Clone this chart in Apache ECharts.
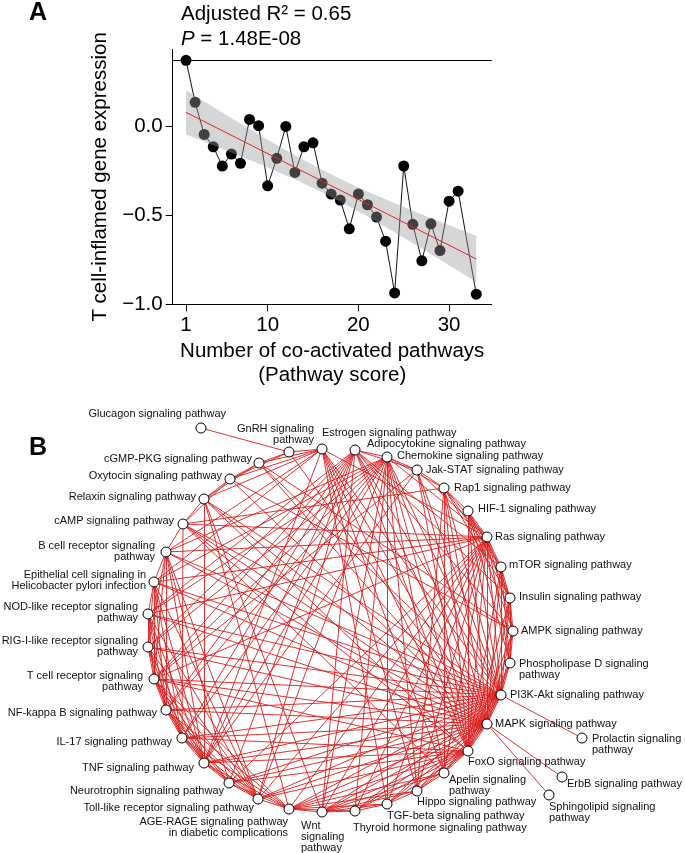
<!DOCTYPE html>
<html><head><meta charset="utf-8">
<script src="https://cdn.jsdelivr.net/npm/echarts@6/dist/echarts.min.js"></script>
<style>html,body{margin:0;padding:0;background:#fff}#c{width:685px;height:853px}</style>
</head><body><div id="c"></div>
<script>
// ---------- Panel A data ----------
const scoreX = [1,2,3,4,5,6,7,8,9,10,11,12,13,14,15,16,17,18,19,20,21,22,23,24,25,26,27,28,29,30,31,33];
const tcellY = [0.368,0.133,-0.047,-0.116,-0.224,-0.157,-0.209,0.037,0.002,-0.335,-0.181,-0.002,-0.260,-0.116,-0.094,-0.320,
                -0.381,-0.415,-0.576,-0.381,-0.441,-0.510,-0.645,-0.935,-0.224,-0.551,-0.755,-0.548,-0.698,-0.421,-0.365,-0.942];
const xTickValues = [1,10,20,30];
const yTickValues = [-1,-0.5,0];
const statR2 = 'Adjusted R² = 0.65';
const statP = '1.48E-08';
const xAxisTitle = 'Number of co-activated pathways\n(Pathway score)';
const yAxisTitle = 'T cell-inflamed gene expression';

// ---------- Panel B data ----------
const nodeIds = ['gluc','gnrh','estr','adipo','chemo','jak','rap1','hif','ras','mtor','ins','ampk','pld','pi3k','mapk','prl','foxo','erbb','sphingo',
  'apelin','hippo','tgf','thyroid','wnt','age','toll','neuro','tnf','il17','nfkb','tcr','rig','nod','epi','bcr','camp','relaxin','oxy','cgmp'];
const nodeLabels = ['Glucagon signaling pathway','GnRH signaling\npathway','Estrogen signaling pathway','Adipocytokine signaling pathway',
  'Chemokine signaling pathway','Jak-STAT signaling pathway','Rap1 signaling pathway','HIF-1 signaling pathway','Ras signaling pathway',
  'mTOR signaling pathway','Insulin signaling pathway','AMPK signaling pathway','Phospholipase D signaling\npathway','PI3K-Akt signaling pathway',
  'MAPK signaling pathway','Prolactin signaling\npathway','FoxO signaling pathway','ErbB signaling pathway','Sphingolipid signaling\npathway',
  'Apelin signaling\npathway','Hippo signaling pathway','TGF-beta signaling pathway','Thyroid hormone signaling pathway','Wnt\nsignaling\npathway',
  'AGE-RAGE signaling pathway\nin diabetic complications','Toll-like receptor signaling pathway','Neurotrophin signaling pathway',
  'TNF signaling pathway','IL-17 signaling pathway','NF-kappa B signaling pathway','T cell receptor signaling\npathway',
  'RIG-I-like receptor signaling\npathway','NOD-like receptor signaling\npathway','Epithelial cell signaling in\nHelicobacter pylori infection',
  'B cell receptor signaling\npathway','cAMP signaling pathway','Relaxin signaling pathway','Oxytocin signaling pathway','cGMP-PKG signaling pathway'];
// network layout coordinates (layout units, circle centred on 0,0)
const nodeLayoutX = [-129,-41,-8,25,57,87,114,138,157,171,180,183,180,171,157,252,138,232,219,114,87,57,25,-8,-41,-72,-101,-126,-148,-164,-176,-182,-182,-176,-164,-147,-126,-100,-71];
const nodeLayoutY = [203,179,182,181,174,161,143,120,94,64,33,0,-32,-64,-93,-107,-120,-146,-164,-142,-160,-173,-180,-181,-178,-168,-152,-132,-107,-79,-48,-16,17,49,79,107,132,152,168];
const edgeList = [
 ['gluc','gnrh'],['gnrh','estr'],['gnrh','cgmp'],['gnrh','oxy'],['gnrh','mapk'],
 ['cgmp','estr'],['cgmp','oxy'],['cgmp','pi3k'],['cgmp','mapk'],['cgmp','relaxin'],['cgmp','ampk'],
 ['oxy','estr'],['oxy','mapk'],['oxy','camp'],['oxy','relaxin'],['oxy','ampk'],
 ['relaxin','estr'],['relaxin','camp'],['relaxin','tnf'],['relaxin','pi3k'],['relaxin','mapk'],['relaxin','foxo'],['relaxin','wnt'],['relaxin','age'],
 ['camp','bcr'],['camp','ras'],['camp','pi3k'],['camp','mapk'],['camp','rap1'],['camp','il17'],['camp','foxo'],['camp','apelin'],
 ['estr','pi3k'],['estr','mapk'],['estr','ras'],['estr','foxo'],['estr','hippo'],['estr','tgf'],['estr','apelin'],['estr','bcr'],['estr','epi'],['estr','tnf'],
 ['adipo','tnf'],['adipo','nfkb'],['adipo','toll'],['adipo','il17'],['adipo','pi3k'],['adipo','mapk'],['adipo','ampk'],['adipo','ins'],['adipo','mtor'],
 ['adipo','jak'],['adipo','chemo'],['adipo','rig'],['adipo','nod'],['adipo','tcr'],['adipo','neuro'],['adipo','foxo'],['adipo','wnt'],
 ['chemo','bcr'],['chemo','tcr'],['chemo','nfkb'],['chemo','tnf'],['chemo','toll'],['chemo','il17'],['chemo','rig'],['chemo','nod'],['chemo','epi'],
 ['chemo','pi3k'],['chemo','mapk'],['chemo','foxo'],['chemo','ras'],['chemo','jak'],['chemo','rap1'],['chemo','apelin'],['chemo','hippo'],['chemo','wnt'],['chemo','thyroid'],['chemo','tgf'],
 ['jak','rap1'],['jak','pi3k'],['jak','mapk'],['jak','foxo'],['jak','ras'],['jak','tcr'],['jak','tnf'],
 ['rap1','hif'],['rap1','ras'],['rap1','pi3k'],['rap1','mapk'],['rap1','foxo'],['rap1','apelin'],['rap1','hippo'],['rap1','mtor'],['rap1','ins'],
 ['hif','ras'],['hif','pi3k'],['hif','mapk'],['hif','foxo'],['hif','mtor'],['hif','ampk'],['hif','pld'],['hif','ins'],
 ['ras','mtor'],['ras','ins'],['ras','ampk'],['ras','pld'],['ras','pi3k'],['ras','mapk'],['ras','foxo'],['ras','bcr'],['ras','epi'],['ras','nod'],['ras','tcr'],
 ['ras','neuro'],['ras','wnt'],['ras','apelin'],['ras','hippo'],['ras','tgf'],['ras','age'],['ras','thyroid'],['ras','toll'],
 ['mtor','ins'],['mtor','ampk'],['mtor','pld'],['mtor','pi3k'],['mtor','mapk'],['mtor','foxo'],
 ['ins','ampk'],['ins','pld'],['ins','pi3k'],['ins','mapk'],['ins','foxo'],
 ['ampk','pld'],['ampk','pi3k'],['ampk','mapk'],['ampk','foxo'],
 ['pld','pi3k'],['pld','mapk'],['pld','foxo'],
 ['pi3k','mapk'],['pi3k','foxo'],['pi3k','prl'],['pi3k','bcr'],['pi3k','epi'],['pi3k','nod'],['pi3k','rig'],['pi3k','tcr'],['pi3k','nfkb'],['pi3k','il17'],
 ['pi3k','tnf'],['pi3k','neuro'],['pi3k','toll'],['pi3k','age'],['pi3k','wnt'],['pi3k','thyroid'],['pi3k','tgf'],['pi3k','hippo'],['pi3k','apelin'],
 ['mapk','foxo'],['mapk','erbb'],['mapk','sphingo'],['mapk','bcr'],['mapk','epi'],['mapk','nod'],['mapk','rig'],['mapk','tcr'],['mapk','nfkb'],['mapk','il17'],
 ['mapk','tnf'],['mapk','neuro'],['mapk','toll'],['mapk','age'],['mapk','wnt'],['mapk','thyroid'],['mapk','tgf'],['mapk','hippo'],['mapk','apelin'],
 ['foxo','apelin'],['foxo','hippo'],['foxo','tgf'],['foxo','thyroid'],['foxo','wnt'],['foxo','age'],['foxo','toll'],['foxo','neuro'],['foxo','tnf'],['foxo','il17'],['foxo','tcr'],
 ['apelin','hippo'],['apelin','age'],['apelin','wnt'],['hippo','tgf'],['hippo','wnt'],['hippo','age'],['tgf','wnt'],['tgf','age'],['tgf','thyroid'],
 ['thyroid','wnt'],['thyroid','age'],['wnt','age'],
 ['age','toll'],['age','tnf'],['age','nfkb'],['age','il17'],['age','neuro'],['age','tcr'],
 ['toll','neuro'],['toll','tnf'],['toll','il17'],['toll','nfkb'],['toll','tcr'],['toll','rig'],['toll','nod'],['toll','epi'],['toll','bcr'],
 ['neuro','tnf'],['neuro','il17'],['neuro','nfkb'],['neuro','tcr'],['neuro','bcr'],
 ['tnf','il17'],['tnf','nfkb'],['tnf','tcr'],['tnf','rig'],['tnf','nod'],['tnf','epi'],['tnf','bcr'],
 ['il17','nfkb'],['il17','tcr'],['il17','rig'],['il17','nod'],['il17','epi'],
 ['nfkb','tcr'],['nfkb','rig'],['nfkb','nod'],['nfkb','epi'],['nfkb','bcr'],
 ['tcr','rig'],['tcr','nod'],['tcr','epi'],['tcr','bcr'],['rig','nod'],['rig','epi'],['nod','epi'],['epi','bcr'],['bcr','rig']
];

// ---------- styles (label placement relative to node centre: dx, dyTop, align) ----------
const labelPlace = {
 gluc:[25,-19.8,'right'], gnrh:[25,-28.5,'right'], cgmp:[-7,-9.5,'right'], oxy:[-8,-8.8,'right'], relaxin:[-8,-7.8,'right'],
 camp:[-9,-8.8,'right'], bcr:[-11,-11.8,'right'], epi:[-8,-12.5,'right'], nod:[-10,-12.5,'right'], rig:[-10,-11.8,'right'],
 tcr:[-11,-8.5,'right'], nfkb:[-9,-2.5,'right'], il17:[-10,-1.5,'right'], tnf:[-10,-0.5,'right'], neuro:[-5,2.5,'right'],
 toll:[-4,3.5,'right'], age:[-1,7.5,'right'], wnt:[-21,8.5,'left'], thyroid:[-2,11.5,'left'], tgf:[0,6.5,'left'],
 hippo:[0,5.5,'left'], apelin:[5,1.5,'left'], foxo:[0,5.5,'left'], mapk:[8,-5.5,'left'], pi3k:[9,-5.5,'left'],
 pld:[9,-4.5,'left'], ampk:[8,-5.5,'left'], ins:[9,-6.5,'left'], mtor:[8,-7.5,'left'], ras:[8,-5.5,'left'],
 hif:[10,-7.5,'left'], rap1:[10,-5.5,'left'], jak:[9,-5.5,'left'], chemo:[10,-6.5,'left'], adipo:[12,-11.5,'left'],
 estr:[0,-21.5,'left'], prl:[10,-4.5,'left'], erbb:[5,1.5,'left'], sphingo:[0,6.5,'left']
};
const FONT = '"Liberation Sans", Arial, Helvetica, sans-serif';

// ---------- regression fit and 95% confidence band computed from the data ----------
const n = scoreX.length;
const mx = scoreX.reduce((a,b)=>a+b,0)/n;
const my = tcellY.reduce((a,b)=>a+b,0)/n;
let sxx=0, sxy=0;
for (let i=0;i<n;i++){ sxx += (scoreX[i]-mx)**2; sxy += (scoreX[i]-mx)*(tcellY[i]-my); }
const slope = sxy/sxx, icpt = my - slope*mx;
let sse = 0;
for (let i=0;i<n;i++){ sse += (tcellY[i] - (icpt + slope*scoreX[i]))**2; }
const sRes = Math.sqrt(sse/(n-2));
const tCrit = 2.042; // t(0.975, df=30)
const xFirst = scoreX[0], xLast = scoreX[n-1];
const bandX = [], bandLo = [], bandHi = [];
for (let x = xFirst; x <= xLast + 1e-9; x += 0.25) {
  const yh = icpt + slope*x;
  const se = sRes*Math.sqrt(1/n + (x-mx)**2/sxx);
  bandX.push(x); bandLo.push(yh - tCrit*se); bandHi.push(yh + tCrit*se);
}
const fitLine = [[xFirst, icpt+slope*xFirst],[xLast, icpt+slope*xLast]];

// ---------- build graph ----------
const graphNodes = nodeIds.map((id,i)=>{
  const p = labelPlace[id];
  return {
    name: id, value: [nodeLayoutX[i], nodeLayoutY[i]],
    label: { show:true, formatter: nodeLabels[i], position:['50%','50%'], offset:[p[0], p[1]],
             align:p[2], verticalAlign:'top', fontSize:11, lineHeight:11, color:'#111', fontFamily: FONT }
  };
});
const graphLinks = edgeList.map(e=>({source:e[0], target:e[1]}));

const chart = echarts.init(document.getElementById('c'), null, {renderer:'canvas'});
chart.setOption({
  animation:false,
  backgroundColor:'#fff',
  textStyle:{fontFamily:FONT},
  title:[
    {text:'A', left:29, top:1, padding:0, textStyle:{fontSize:25, fontWeight:'bold', color:'#000', fontFamily:FONT}},
    {text:statR2, left:181, top:4, padding:0, textStyle:{fontSize:20.5, fontWeight:'normal', color:'#000', fontFamily:FONT}},
    {text:'{i|P} = ' + statP, left:181, top:29, padding:0,
     textStyle:{fontSize:20.5, fontWeight:'normal', color:'#000', fontFamily:FONT,
       rich:{i:{fontStyle:'italic', fontSize:20.5, color:'#000', fontFamily:FONT}}}},
    {text:'B', left:29, top:436, padding:0, textStyle:{fontSize:25, fontWeight:'bold', color:'#000', fontFamily:FONT}}
  ],
  grid:[
    {left:172.7, right:193.3, top:49.3, bottom:548.5, containLabel:false},
    {left:0, right:0, top:0, bottom:0, containLabel:false}
  ],
  xAxis:[
    {gridIndex:0, type:'value', min:-0.47, max:34.7,
     name:xAxisTitle, nameLocation:'middle', nameGap:35,
     nameTextStyle:{fontSize:20.5, color:'#000', lineHeight:24, fontFamily:FONT},
     axisLine:{show:true, onZero:false, lineStyle:{color:'#000', width:1}},
     axisTick:{show:true, length:7, lineStyle:{color:'#000'}, customValues:xTickValues},
     axisLabel:{fontSize:20.5, color:'#000', margin:10, customValues:xTickValues, fontFamily:FONT},
     splitLine:{show:false}},
    {gridIndex:1, type:'value', min:-330, max:355, show:false}
  ],
  yAxis:[
    {gridIndex:0, type:'value', min:-1, max:0.43,
     name:yAxisTitle, nameLocation:'middle', nameGap:62, nameRotate:90,
     nameTextStyle:{fontSize:20.5, color:'#000', fontFamily:FONT},
     axisLine:{show:true, onZero:false, lineStyle:{color:'#000', width:1}},
     axisTick:{show:true, length:7, lineStyle:{color:'#000'}, customValues:yTickValues},
     axisLabel:{fontSize:20.5, color:'#000', margin:10, customValues:yTickValues, fontFamily:FONT,
       formatter:v=> (v<0?'\u2212':'') + Math.abs(v).toFixed(1)},
     splitLine:{show:false}},
    {gridIndex:1, type:'value', min:-222, max:631, show:false}
  ],
  series:[
    {type:'line', xAxisIndex:0, yAxisIndex:0, z:2,
     data: scoreX.map((x,i)=>[x, tcellY[i]]),
     symbol:'circle', symbolSize:11, showSymbol:true,
     itemStyle:{color:'#000'}, lineStyle:{color:'#111', width:1},
     emphasis:{disabled:true},
     markLine:{silent:true, symbol:'none', label:{show:false},
       lineStyle:{color:'#000', width:1, type:'solid'},
       data:[{yAxis: tcellY[0]}]}},
    {type:'custom', xAxisIndex:0, yAxisIndex:0, z:3,
     data: bandX.map((x,i)=>[x, bandLo[i], bandHi[i]]),
     encode:{x:0, y:[1,2]},
     renderItem:(params, api)=>{
       if (params.dataIndex !== 0) return null;
       const pts = [];
       for (let i=0;i<bandX.length;i++) pts.push(api.coord([bandX[i], bandHi[i]]));
       for (let i=bandX.length-1;i>=0;i--) pts.push(api.coord([bandX[i], bandLo[i]]));
       return {type:'polygon', shape:{points:pts}, style:{fill:'rgba(156,156,156,0.41)', stroke:null}};
     },
     silent:true},
    {type:'line', xAxisIndex:0, yAxisIndex:0, z:4, data:fitLine, symbol:'none',
     lineStyle:{color:'#e0262b', width:1}, emphasis:{disabled:true}},
    {type:'graph', coordinateSystem:'cartesian2d', xAxisIndex:1, yAxisIndex:1, layout:'none', z:5,
     symbol:'circle', symbolSize:10,
     itemStyle:{color:'#fff', borderColor:'#000', borderWidth:1},
     lineStyle:{color:'#d91c1c', width:0.9, opacity:1, curveness:0},
     emphasis:{disabled:true},
     data:graphNodes, links:graphLinks}
  ]
});
</script>
</body></html>
